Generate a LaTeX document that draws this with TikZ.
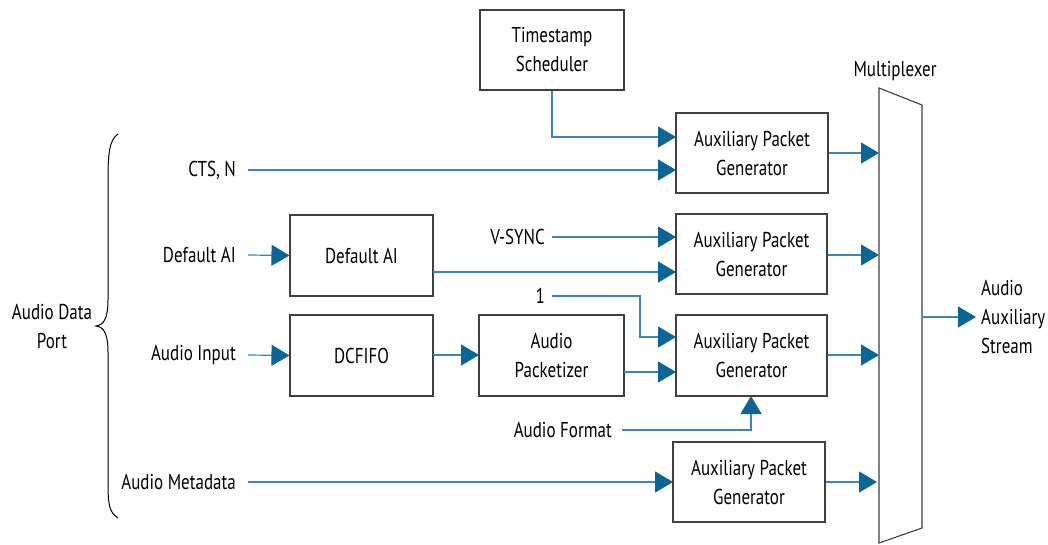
\documentclass[tikz,border=0pt]{standalone}
\usepackage{fontspec}
\setmainfont{PT Sans}[FakeStretch=0.79]
\usetikzlibrary{arrows.meta,calc}
\definecolor{lineblue}{HTML}{3A86B8}
\definecolor{tipblue}{HTML}{0B6698}
\definecolor{boxgray}{HTML}{404040}
\begin{document}
\begin{tikzpicture}[x=1pt,y=-1pt,
  font=\fontsize{21.5}{29}\selectfont,
  blk/.style={draw=boxgray,line width=1.1pt,align=center,inner sep=0pt,fill=white},
  lbl/.style={inner sep=0pt,align=center},
  conn/.style={draw=lineblue,line width=1.2pt,-{Triangle[length=18pt,width=21pt,color=tipblue,fill=tipblue]}},
  plain/.style={draw=lineblue,line width=1.2pt}]
\useasboundingbox (0,0) rectangle (1048,544);

% blocks
\node[blk,minimum width=144pt,minimum height=80pt] (ts) at (552,50) {Timestamp\\Scheduler};
\node[blk,minimum width=152pt,minimum height=80pt] (apg1) at (752,153) {Auxiliary Packet\\Generator};
\node[blk,minimum width=151pt,minimum height=80pt] (apg2) at (751.5,254) {Auxiliary Packet\\Generator};
\node[blk,minimum width=151pt,minimum height=81pt] (apg3) at (751.5,355.5) {Auxiliary Packet\\Generator};
\node[blk,minimum width=152pt,minimum height=80pt] (apg4) at (749,482) {Auxiliary Packet\\Generator};
\node[blk,minimum width=143pt,minimum height=81pt] (dai) at (361.5,255.5) {Default AI};
\node[blk,minimum width=143pt,minimum height=81pt] (dcf) at (361.5,355.5) {DCFIFO};
\node[blk,minimum width=145pt,minimum height=81pt] (ap) at (551.5,355.5) {Audio\\Packetizer};

% multiplexer
\draw[draw=boxgray,line width=1.1pt,fill=white] (879,88) -- (922,105) -- (922,528) -- (879,543) -- cycle;
\node[lbl] (muxl) at (895,71) {Multiplexer};
\coordinate (m1) at (879,153);
\coordinate (m2) at (879,255);
\coordinate (m3) at (879,355);
\coordinate (m4) at (877,482);
\coordinate (mo) at (922,317);
\coordinate (oo) at (976,317);
\node[lbl,anchor=west,align=left] (out) at (981,317) {Audio\\Auxiliary\\Stream};

% left labels
\node[lbl,anchor=east] (cts) at (236,170) {CTS, N};
\node[lbl,anchor=east] (daiin) at (236,255) {Default AI};
\node[lbl,anchor=east] (ain) at (236,355) {Audio Input};
\node[lbl,anchor=east] (meta) at (236,482) {Audio Metadata};
\node[lbl] (adp) at (52,326) {Audio Data\\Port};
\draw[line width=1pt] (118,134) .. controls (109,140) and (108,155) .. (108,180) -- (108,300)
  .. controls (108,318) and (104,325) .. (96,326)
  .. controls (104,327) and (108,334) .. (108,352) -- (108,480)
  .. controls (108,505) and (109,512) .. (118,518);

% inner labels
\node[lbl,anchor=east] (vs) at (545,237) {V-SYNC};
\node[lbl,anchor=east] (one) at (545,296) {1};
\node[lbl,anchor=east] (af) at (612,430) {Audio Format};

% connector end points
\coordinate (ctsS) at (248,170);
\coordinate (daiS) at (248,255);
\coordinate (ainS) at (248,355);
\coordinate (metaS) at (248,482);
\coordinate (vsS) at (552,237);
\coordinate (oneS) at (552,296);
\coordinate (afS) at (622,430);
\coordinate (a1a) at (676,137);
\coordinate (a1b) at (676,170);
\coordinate (a2a) at (676,237);
\coordinate (a2b) at (676,272);
\coordinate (a3a) at (676,337);
\coordinate (a3b) at (676,372);
\coordinate (a3c) at (751,396);
\coordinate (a4a) at (673,482);
\coordinate (dcfo) at (433,355);
\coordinate (apin) at (479,355);
\coordinate (apo) at (624,372);
\coordinate (daio) at (433,272);

% connectors
\draw[conn] (ts.south) |- (a1a);
\draw[conn] (ctsS) -- (a1b);
\draw[conn] (daiS) -- (dai.west);
\draw[conn] (ainS) -- (dcf.west);
\draw[conn] (metaS) -- (a4a);
\draw[conn] (vsS) -- (a2a);
\draw[conn] (daio) -- (a2b);
\draw[conn] (oneS) -| (640,316) |- (a3a);
\draw[conn] (dcfo) -- (apin);
\draw[conn] (apo) -- (a3b);
\draw[conn] (afS) -| (a3c);
\draw[conn] (apg1.east |- m1) -- (m1);
\draw[conn] (apg2.east |- m2) -- (m2);
\draw[conn] (apg3.east |- m3) -- (m3);
\draw[conn] (apg4.east |- m4) -- (m4);
\draw[conn] (mo) -- (oo);
\end{tikzpicture}
\end{document}
